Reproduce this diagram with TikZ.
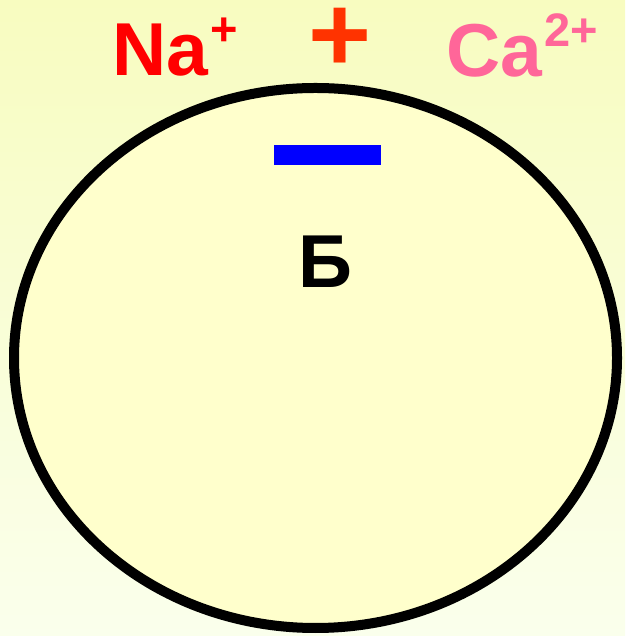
\documentclass[tikz,border=0pt]{standalone}
\usepackage{fontspec}
\setmainfont{Liberation Sans}
\definecolor{bgtop}{RGB}{248,252,192}
\definecolor{bgbot}{RGB}{250,255,236}
\definecolor{cellfill}{RGB}{255,255,204}
\definecolor{nared}{RGB}{255,0,0}
\definecolor{plusred}{RGB}{255,51,0}
\definecolor{capink}{RGB}{255,102,153}
\definecolor{barblue}{RGB}{0,0,255}
\tikzset{
  iontext/.style={inner sep=0pt, font=\bfseries\fontsize{75}{80}\selectfont},
}
\newcommand{\supx}[1]{\kern2pt\raisebox{30pt}{\fontsize{47}{47}\selectfont #1}}
\begin{document}
\begin{tikzpicture}[x=1pt,y=1pt]
\useasboundingbox (0,0) rectangle (625,636);
\shade[top color=bgtop, bottom color=bgbot] (0,0) rectangle (625,636);
\draw[line width=10pt, fill=cellfill] (315.5,278) ellipse [x radius=301.5, y radius=270];
\node[iontext, text=nared, anchor=base west] (na) at (112,560) {Na\supx{+}};
\node[inner sep=0pt, font=\bfseries\fontsize{108}{110}\selectfont, text=plusred, anchor=base] (plus) at (340,564) {+};
\node[iontext, text=capink, anchor=base west] (ca) at (446,559) {Ca\supx{2+}};
\fill[barblue] (274,471) rectangle (381,491);
\node[iontext, anchor=base, text=black] (b) at (325.5,348) {Б};
\end{tikzpicture}
\end{document}
